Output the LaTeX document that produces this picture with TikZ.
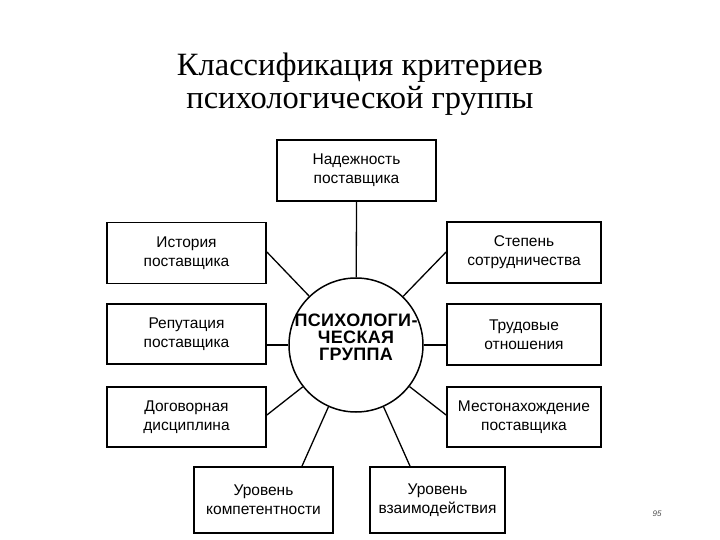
\documentclass[tikz,border=0pt]{standalone}
\usepackage{fontspec}
\setmainfont{Liberation Serif}
\newfontfamily\boxfont{Liberation Sans}
\newfontfamily\circfont[LetterSpace=2]{Liberation Sans}
\begin{document}
\begin{tikzpicture}[x=1pt,y=-1pt,
  crit/.style={draw,line width=1.8pt,rectangle,inner sep=0pt,align=center,
    font=\boxfont\fontsize{15.5}{19}\selectfont},
  link/.style={line width=1.3pt}]
\useasboundingbox (0,0) rectangle (720,540);
\node[font=\fontsize{32.5}{33}\selectfont,align=center] (title) at (360,84)
  {Классификация критериев\\психологической группы};
\node[draw,circle,line width=1.5pt,minimum size=134pt,inner sep=0pt] (c) at (356,345) {};
\node[align=center,inner sep=0pt,
  font=\circfont\bfseries\fontsize{18}{17}\selectfont] (ct) at (356,337)
  {ПСИХОЛОГИ-\\ЧЕСКАЯ\\ГРУППА};
\node[crit,minimum width=159pt,minimum height=61pt] (n1) at (356.5,170.5) {Надежность\\поставщика};
\node[crit,minimum width=159pt,minimum height=61pt] (n2) at (186.5,253) {История\\поставщика};
\node[crit,minimum width=154pt,minimum height=61pt] (n3) at (524,252.5) {Степень\\сотрудничества};
\node[crit,minimum width=159pt,minimum height=60pt] (n4) at (186.5,334) {Репутация\\поставщика};
\node[crit,minimum width=154pt,minimum height=61pt] (n5) at (524,334.5) {Трудовые\\отношения};
\node[crit,minimum width=159pt,minimum height=60pt] (n6) at (186.5,417) {Договорная\\дисциплина};
\node[crit,minimum width=154pt,minimum height=60pt] (n7) at (524,417) {Местонахождение\\поставщика};
\node[crit,minimum width=139pt,minimum height=66pt] (n8) at (263.5,500) {Уровень\\компетентности};
\node[crit,minimum width=135pt,minimum height=66pt] (n9) at (437.5,500) {Уровень\\взаимодействия};
\coordinate (e2) at (266,252);
\coordinate (e3) at (447,252);
\coordinate (e6) at (266,415);
\coordinate (e7) at (447,415);
\coordinate (e8) at (302,467);
\coordinate (e9) at (410,467);
\draw[link] (n1.south) -- (c);
\draw[link] (c) -- (n2.east |- e2);
\draw[link] (c) -- (n3.west |- e3);
\draw[link] (c.west) -- (n4.east |- c.west);
\draw[link] (c.east) -- (n5.west |- c.east);
\draw[link] (c) -- (n6.east |- e6);
\draw[link] (c) -- (n7.west |- e7);
\draw[link] (c) -- (e8 |- n8.north);
\draw[link] (c) -- (e9 |- n9.north);
\node[font=\boxfont\itshape\fontsize{8}{9}\selectfont,text=black!70] (pg) at (657,514) {95};
\end{tikzpicture}
\end{document}
